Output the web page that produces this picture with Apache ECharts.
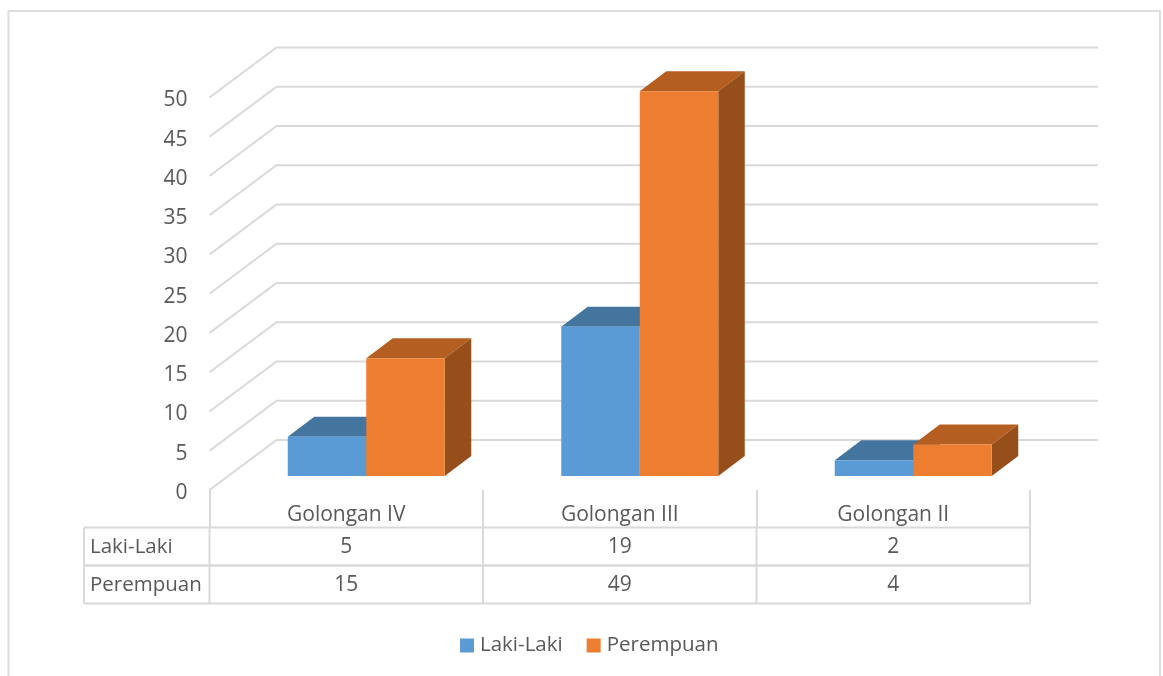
<!DOCTYPE html>
<html>
<head>
<meta charset="utf-8">
<title>Golongan</title>
<script src="https://cdn.jsdelivr.net/npm/echarts@6/dist/echarts.min.js"></script>
<style>
  html, body { margin: 0; padding: 0; background: #fff; }
  #chart { width: 1163px; height: 676px; }
</style>
</head>
<body>
<div id="chart"></div>
<script>
const categories = ['Golongan IV', 'Golongan III', 'Golongan II'];
const lakiLaki = [5, 19, 2];
const perempuan = [15, 49, 4];
const yTicks = [0, 5, 10, 15, 20, 25, 30, 35, 40, 45, 50];

const FONT = 'Open Sans';
const TEXT = '#595959';
const LINE = '#d9d9d9';
const FS = 21;
const FS_NAME = 20.5;

// Fake 3D: pixel offsets for the back wall and for the bar depth
const WALL_DX = 67;
const WALL_DY = -50;
const BAR_W = 78.5;
const BAR_SHIFT_X = 20;
const BAR_SHIFT_Y = -14;
const DEPTH_X = 26.5;
const DEPTH_Y = -20;

const chart = echarts.init(document.getElementById('chart'), null, { renderer: 'canvas' });

const renderWall = (params, api) => {
  const y = api.coord([0, api.value(0)])[1];
  const left = params.coordSys.x;
  const right = left + params.coordSys.width;
  return {
    type: 'polyline',
    shape: {
      points: [
        [left, y],
        [left + WALL_DX, y + WALL_DY],
        [right + WALL_DX + 1, y + WALL_DY],
      ],
    },
    style: { stroke: LINE, lineWidth: 2, fill: null },
  };
};

// side = -1 draws left of the cluster centre, 0 draws right of it
const makeBarRenderer = (side, front, top, flank) => (params, api) => {
  const [cx, y0] = api.coord([api.value(0), 0]);
  const yTop = api.coord([api.value(0), api.value(1)])[1];
  const x1 = cx + BAR_SHIFT_X + side * BAR_W;
  const x2 = x1 + BAR_W;
  const b = y0 + BAR_SHIFT_Y;
  const t = yTop + BAR_SHIFT_Y;
  return {
    type: 'group',
    children: [
      {
        type: 'polygon',
        shape: { points: [[x1, t], [x2, t], [x2 + DEPTH_X, t + DEPTH_Y], [x1 + DEPTH_X, t + DEPTH_Y]] },
        style: { fill: top },
      },
      {
        type: 'polygon',
        shape: { points: [[x2, t], [x2 + DEPTH_X, t + DEPTH_Y], [x2 + DEPTH_X, b + DEPTH_Y], [x2, b]] },
        style: { fill: flank },
      },
      {
        type: 'rect',
        shape: { x: x1, y: t, width: BAR_W, height: b - t },
        style: { fill: front },
      },
    ],
  };
};

// Data table under the chart, one row per series
const ROW_TOP = 527.5;
const ROW_H = 38;
const TABLE_LEFT = 84;
const renderRow = (rowName, values, rowIndex) => (params, api) => {
  const left = params.coordSys.x;
  const right = left + params.coordSys.width;
  const y = ROW_TOP + rowIndex * ROW_H;
  const cy = y + ROW_H / 2 + 0.5;
  const children = [
    { type: 'line', shape: { x1: TABLE_LEFT, y1: y, x2: right, y2: y }, style: { stroke: LINE, lineWidth: 2 } },
    { type: 'line', shape: { x1: TABLE_LEFT, y1: y + ROW_H, x2: right, y2: y + ROW_H }, style: { stroke: LINE, lineWidth: 2 } },
    { type: 'line', shape: { x1: TABLE_LEFT, y1: y, x2: TABLE_LEFT, y2: y + ROW_H }, style: { stroke: LINE, lineWidth: 2 } },
    { type: 'line', shape: { x1: left, y1: y, x2: left, y2: y + ROW_H }, style: { stroke: LINE, lineWidth: 2 } },
    { type: 'line', shape: { x1: right, y1: y, x2: right, y2: y + ROW_H }, style: { stroke: LINE, lineWidth: 2 } },
    {
      type: 'text',
      style: { x: TABLE_LEFT + 6, y: cy, text: rowName, fill: TEXT, font: `${FS_NAME}px "${FONT}"`, align: 'left', verticalAlign: 'middle' },
    },
  ];
  values.forEach((v, i) => {
    const cx = api.coord([i, 0])[0];
    const edge = left + (params.coordSys.width / categories.length) * (i + 1);
    if (i < values.length - 1) {
      children.push({ type: 'line', shape: { x1: edge, y1: y, x2: edge, y2: y + ROW_H }, style: { stroke: LINE, lineWidth: 2 } });
    }
    children.push({
      type: 'text',
      style: { x: cx, y: cy, text: String(v), fill: TEXT, font: `${FS}px "${FONT}"`, align: 'center', verticalAlign: 'middle' },
    });
  });
  return { type: 'group', children };
};

const option = {
  animation: false,
  backgroundColor: '#fff',
  textStyle: { fontFamily: FONT },
  graphic: [
    {
      type: 'polyline',
      silent: true,
      shape: { points: [[8.5, 676], [8.5, 11], [1160, 11], [1160, 676]] },
      style: { stroke: '#dedede', lineWidth: 2, fill: null },
    },
  ],
  legend: {
    data: ['Laki-Laki', 'Perempuan'],
    left: 455,
    top: 630,
    icon: 'rect',
    itemWidth: 14,
    itemHeight: 14,
    itemGap: 24,
    textStyle: { color: TEXT, fontSize: FS_NAME, fontFamily: FONT, padding: [0, 0, 0, 1] },
  },
  grid: { left: 209.5, top: 97.5, width: 820.5, height: 392.5 },
  xAxis: {
    type: 'category',
    data: categories,
    axisLine: { show: false },
    axisTick: { show: true, length: 37, alignWithLabel: false, lineStyle: { color: LINE, width: 2 } },
    axisLabel: { color: TEXT, fontSize: FS, fontFamily: FONT, margin: 15 },
  },
  yAxis: {
    type: 'value',
    min: 0,
    max: 50,
    interval: 5,
    axisLine: { show: false },
    axisTick: { show: false },
    splitLine: { show: false },
    // small line box hung from the tick: sits the digits a few px below it, like the original
    axisLabel: { color: TEXT, fontSize: FS, fontFamily: FONT, margin: 22, verticalAlign: 'top', lineHeight: 6 },
  },
  series: [
    {
      type: 'custom',
      name: 'wall',
      silent: true,
      z: 1,
      data: yTicks.map((v) => [v]),
      encode: { y: 0 },
      renderItem: renderWall,
    },
    {
      type: 'custom',
      name: 'Laki-Laki',
      z: 2,
      itemStyle: { color: '#5B9BD5' },
      data: lakiLaki.map((v, i) => [i, v]),
      encode: { x: 0, y: 1 },
      renderItem: makeBarRenderer(-1, '#5B9BD5', '#44759F', '#3E6A91'),
    },
    {
      type: 'custom',
      name: 'Perempuan',
      z: 3,
      itemStyle: { color: '#ED7D31' },
      data: perempuan.map((v, i) => [i, v]),
      encode: { x: 0, y: 1 },
      renderItem: makeBarRenderer(0, '#ED7D31', '#B55E21', '#964F1B'),
    },
    {
      type: 'custom',
      name: 'tableLaki',
      silent: true,
      z: 1,
      data: [[0, 0]],
      encode: { x: 0, y: 1 },
      renderItem: renderRow('Laki-Laki', lakiLaki, 0),
    },
    {
      type: 'custom',
      name: 'tablePerempuan',
      silent: true,
      z: 1,
      data: [[0, 0]],
      encode: { x: 0, y: 1 },
      renderItem: renderRow('Perempuan', perempuan, 1),
    },
  ],
};

chart.setOption(option);
</script>
</body>
</html>
